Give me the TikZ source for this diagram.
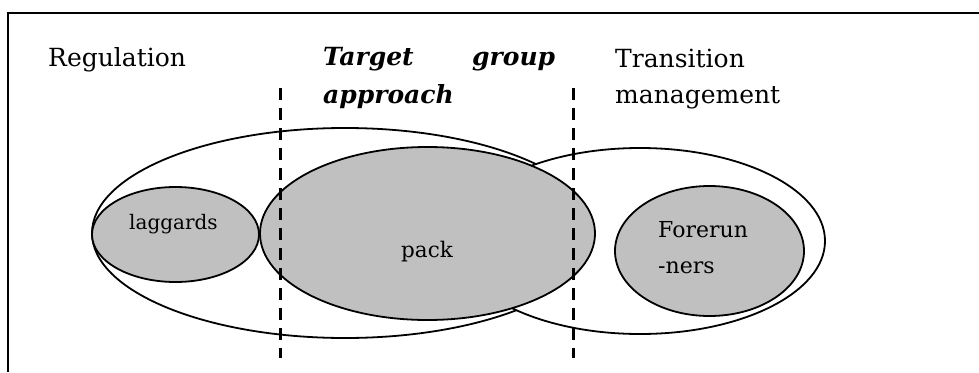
\documentclass[tikz,border=0pt]{standalone}
\usepackage{fontspec}
\setmainfont{DejaVu Serif}
\definecolor{fillgray}{RGB}{192,192,192}
\begin{document}
\begin{tikzpicture}[x=1pt,y=-1pt,
  frameline/.style={draw=black, line width=2pt},
  outline/.style={draw=black, line width=1.8pt},
  whiteblob/.style={outline, fill=white},
  grayblob/.style={outline, fill=fillgray},
  divider/.style={draw=black, line width=2.4pt, dash pattern=on 11.5pt off 8.5pt},
  heading/.style={inner sep=0pt, anchor=base west, align=left, font=\fontsize{25}{37}\selectfont},
  label/.style={inner sep=0pt, anchor=base west, align=left, font=\fontsize{20}{36}\selectfont}]
\useasboundingbox (0,0) rectangle (979,372);
% frame
\draw[frameline] (979,13) -- (8,13) -- (8,372);
% ellipses
\draw[whiteblob] (345,233) ellipse [x radius=253, y radius=105];
\draw[whiteblob] (640,241) ellipse [x radius=185, y radius=93];
\draw[grayblob] (427.5,233.5) ellipse [x radius=167.5, y radius=86.5];
\draw[grayblob] (175.5,234.5) ellipse [x radius=83.5, y radius=47.5];
\draw[grayblob] (709.5,251) ellipse [x radius=94.5, y radius=65];
% headings
\node[heading, text width=200pt] (reg) at (48,66) {Regulation};
\node[heading, text width=232pt, font=\fontsize{25}{38}\selectfont] (tga) at (323,65) {\bfseries\itshape Target\hfill group\\approach};
\node[heading, text width=220pt, font=\fontsize{25}{36}\selectfont] (tm) at (615,67) {Transition\\management};
% labels
\node[label, text width=150pt] (lag) at (129,229) {laggards};
\node[label, text width=150pt, font=\fontsize{21.5}{36}\selectfont] (pack) at (401,257) {pack};
\node[label, text width=150pt, font=\fontsize{22}{36}\selectfont] (fore) at (658,237) {Forerun\\-ners};
% dividers
\coordinate (d1t) at (280.5,88);
\coordinate (d1b) at (280.5,358);
\coordinate (d2t) at (573.5,88);
\coordinate (d2b) at (573.5,358);
\draw[divider] (d1t) -- (d1b);
\draw[divider] (d2t) -- (d2b);
\end{tikzpicture}
\end{document}
